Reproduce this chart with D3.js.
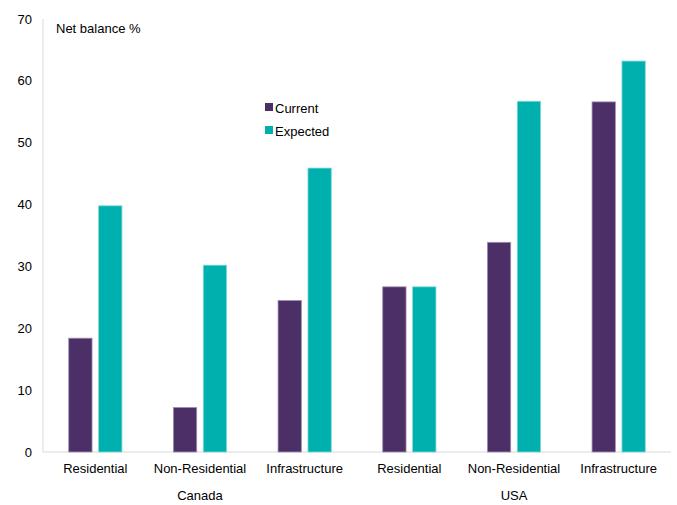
<!DOCTYPE html>
<html><head><meta charset="utf-8">
<script src="https://cdn.jsdelivr.net/npm/d3@7"></script>
<style>body{margin:0;background:#fff;} text{font-family:"Liberation Sans",Arial,sans-serif;}</style>
</head><body><svg id="c" width="677" height="505"></svg>
<script>
const categories = ["Residential","Non-Residential","Infrastructure","Residential","Non-Residential","Infrastructure"];
const groups = ["Canada","Canada","Canada","USA","USA","USA"];
const current = [18.4, 7.2, 24.5, 26.7, 33.9, 56.6];
const expected = [39.8, 30.2, 45.9, 26.7, 56.7, 63.2];
const seriesNames = ["Current","Expected"];
const colors = ["#4C2F66","#00B0AF"];
const yTicks = [0,10,20,30,40,50,60,70];

const svg = d3.select("#c");
const m = {l:43, r:6, t:19, b:53};
const W = 677, H = 505;
const x = d3.scaleBand().domain(d3.range(categories.length)).range([m.l, W - m.r]).paddingInner(0).paddingOuter(0);
const y = d3.scaleLinear().domain([0,70]).range([H - m.b, m.t]);
const x1 = d3.scaleBand().domain([0,1]).range([0, x.bandwidth()]).paddingInner(0.22).paddingOuter(0.86);

// axes lines
svg.append("line").attr("x1", m.l).attr("x2", m.l).attr("y1", y(70)).attr("y2", y(0)).attr("stroke","#d9d9d9");
svg.append("line").attr("x1", m.l).attr("x2", W - m.r).attr("y1", y(0)).attr("y2", y(0)).attr("stroke","#d9d9d9");

// y tick labels
svg.selectAll(".yt").data(yTicks).enter().append("text")
  .attr("x", 32).attr("y", d => y(d)).attr("dy","0.35em").attr("text-anchor","end")
  .attr("font-size", 13).attr("fill","#000").text(d => d);

const data = [current, expected];
data.forEach((vals, s) => {
  svg.selectAll(".b"+s).data(vals).enter().append("rect")
    .attr("x", (d,i) => x(i) + x1(s))
    .attr("width", x1.bandwidth())
    .attr("y", d => y(d))
    .attr("height", d => y(0) - y(d))
    .attr("fill", colors[s])
    .attr("stroke", s === 0 ? "#a08fb3" : "#7fd8d7").attr("stroke-width", 0.8);
});

// category labels
svg.selectAll(".cl").data(categories).enter().append("text")
  .attr("x", (d,i) => x(i) + x.bandwidth()/2).attr("y", 473)
  .attr("text-anchor","middle").attr("font-size", 13).attr("fill","#000").text(d => d);

// group labels
const uniq = Array.from(new Set(groups));
uniq.forEach(g => {
  const idx = groups.map((v,i)=>v===g?i:-1).filter(i=>i>=0);
  const cx = (x(idx[0]) + x(idx[idx.length-1]) + x.bandwidth())/2;
  svg.append("text").attr("x", cx).attr("y", 500).attr("text-anchor","middle")
    .attr("font-size", 13).attr("fill","#000").text(g);
});

// title
svg.append("text").attr("x", 56).attr("y", 33).attr("font-size", 13).attr("fill","#000").text("Net balance %");

// legend
seriesNames.forEach((n, i) => {
  const ly = 108 + i*23;
  svg.append("rect").attr("x", 265).attr("y", ly - 5).attr("width", 8).attr("height", 8).attr("fill", colors[i]);
  svg.append("text").attr("x", 275).attr("y", ly).attr("dy","0.35em").attr("font-size", 13).attr("fill","#000").text(n);
});
</script></body></html>
